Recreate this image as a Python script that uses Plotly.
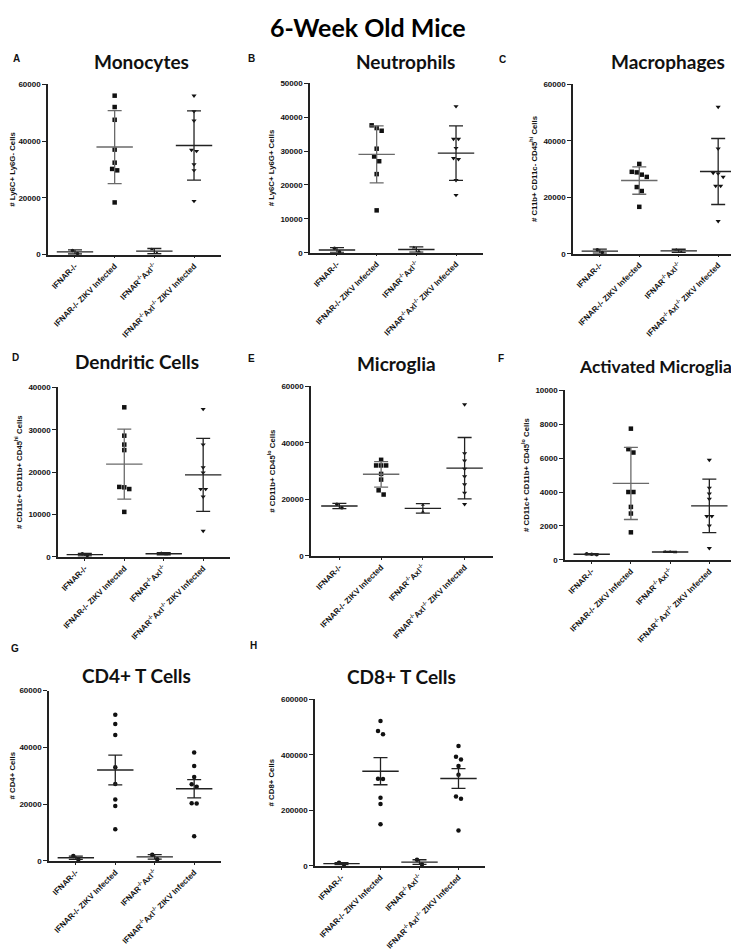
import numpy as np
import plotly.graph_objects as go

# group labels (x axis categories)
groups = ["IFNAR-/-", "IFNAR-/- ZIKV Infected",
          "IFNAR<sup>-/-</sup>Axl<sup>-/-</sup>",
          "IFNAR<sup>-/-</sup>Axl<sup>-/-</sup> ZIKV Infected"]

# cell counts per group
monocytes = [[1500, 450],
             [56000, 52000, 47500, 37000, 32400, 30200, 29700, 18400],
             [1900, 600],
             [56000, 50500, 47200, 36900, 36500, 31800, 29700, 18900]]
neutrophils = [[1300, 300],
               [37600, 36800, 36000, 30700, 28400, 27000, 23200, 12500],
               [1500, 400],
               [43200, 33600, 33600, 30900, 27900, 27600, 21400, 17000]]
macrophages = [[1400, 400],
               [31800, 29000, 28800, 28000, 27200, 23600, 22200, 16600],
               [1400, 600],
               [52000, 37200, 28600, 28400, 27200, 24000, 24000, 11500]]
dendritic = [[700, 300],
             [35300, 28600, 26500, 25200, 16500, 16400, 16000, 10600],
             [900, 550],
             [34900, 26500, 21100, 19900, 16000, 16000, 14200, 6100]]
microglia = [[18300, 17000],
             [34000, 32000, 32000, 32000, 29000, 27000, 23200, 21700],
             [18000, 15600],
             [53600, 36300, 33700, 30800, 28100, 25300, 22300, 18300]]
act_microglia = [[290, 360, 320],
                 [7740, 6530, 6330, 4000, 4000, 3120, 2730, 1620],
                 [430, 470, 480],
                 [5890, 4250, 3900, 3590, 2570, 2570, 2010, 680]]
cd4 = [[1700, 500],
       [51500, 48200, 44300, 33000, 27100, 21600, 19300, 11100],
       [2200, 600],
       [38200, 33400, 29500, 27000, 26100, 20300, 20200, 8700]]
cd8 = [[11500, 4500],
       [522000, 486600, 474800, 314100, 313000, 245600, 223200, 150000],
       [22000, 5000],
       [432300, 393300, 383800, 360200, 328300, 250400, 242100, 127500]]

titles = ["Monocytes", "Neutrophils", "Macrophages", "Dendritic Cells",
          "Microglia", "Activated Microglia", "CD4+ T Cells", "CD8+ T Cells"]
ytitles = ["# Ly6C+ Ly6G- Cells", "# Ly6C+ Ly6G+ Cells",
           "# C11b+ CD11c- CD45<sup>hi</sup> Cells",
           "# CD11c+ CD11b+ CD45<sup>hi</sup> Cells",
           "# CD11b+ CD45<sup>lo</sup> Cells",
           "# CD11c+ CD11b+ CD45<sup>lo</sup> Cells",
           "# CD4+ Cells", "# CD8+ Cells"]
ymax = [60000, 50000, 60000, 40000, 60000, 10000, 60000, 600000]
ystep = [20000, 10000, 20000, 10000, 20000, 2000, 20000, 200000]
letters = ["A", "B", "C", "D", "E", "F", "G", "H"]
datasets = [monocytes, neutrophils, macrophages, dendritic, microglia,
            act_microglia, cd4, cd8]

W, H = 739, 950
# plot boxes in pixels: x0, x1, ytop, ybottom
boxes = [(40, 213, 73, 245), (302, 475, 72, 243), (565, 737, 73, 244),
         (50, 222, 379, 550), (303, 485, 378, 549), (557, 728, 382, 553),
         (41, 213, 685, 857), (307, 477, 694, 862)]
title_pos = [(133, 50), (397, 50), (660, 50), (129, 353), (388, 355),
             (647, 358), (128, 670), (393, 671)]
title_size = [19, 19, 19, 19, 19, 17.5, 19, 19]
letter_pos = [(8, 47), (243, 47), (495, 48), (7, 349), (243, 350),
              (493, 350), (7, 643), (245, 640)]

XR = [-0.68, 3.68]
FONT = "Liberation Sans, Arial, sans-serif"
TFONT = "Lato, Open Sans, sans-serif"

fig = go.Figure()
annotations = []

for i in range(8):
    n = i + 1
    xa = "x" if n == 1 else f"x{n}"
    ya = "y" if n == 1 else f"y{n}"
    x0, x1, yt, yb = boxes[i]
    px_per_cat = (x1 - x0) / (XR[1] - XR[0])
    px_per_val = (yb - yt) / ymax[i]
    sem = i >= 6
    for g, vals in enumerate(datasets[i]):
        vals = np.array(vals, dtype=float)
        mean = vals.mean()
        err = vals.std(ddof=1)
        if sem:
            err = err / np.sqrt(len(vals))
            sym, size = "circle", 4.5
        else:
            sym = ["circle", "square", "triangle-up", "triangle-down"][g]
            size = [3.5, 4.5, 3.5, 4.5][g]
        # spread points that overlap, like a column scatter
        order = np.argsort(-vals)
        sv = vals[order]
        d = 5.0
        offs = np.zeros(len(sv))
        start = 0
        for k in range(1, len(sv) + 1):
            if k == len(sv) or (sv[k - 1] - sv[k]) * px_per_val >= d:
                m = k - start
                offs[start:k] = (np.arange(m) - (m - 1) / 2) * d / px_per_cat
                start = k
        fig.add_trace(go.Scatter(
            x=g + offs, y=sv, xaxis=xa, yaxis=ya, mode="markers",
            marker=dict(symbol=sym, size=size, color="#111"),
            cliponaxis=False, showlegend=False, hoverinfo="y"))
        lc = "#6a6a6a" if (g == 1 and not sem) else "#222"
        fig.add_trace(go.Scatter(
            x=[g], y=[mean], xaxis=xa, yaxis=ya, mode="markers",
            marker=dict(symbol="line-ew", size=26,
                        line=dict(width=1.4, color=lc)),
            error_y=dict(type="data", array=[err], width=7, thickness=1.3,
                         color=lc),
            cliponaxis=False, showlegend=False, hoverinfo="y"))

    tv = list(range(0, ymax[i] + 1, ystep[i]))
    xkey = "xaxis" if n == 1 else f"xaxis{n}"
    ykey = "yaxis" if n == 1 else f"yaxis{n}"
    fig.layout[xkey] = dict(
        domain=[x0 / W, x1 / W], anchor=ya, range=XR,
        tickvals=[0, 1, 2, 3], ticktext=groups, tickangle=-45,
        tickfont=dict(family=FONT, size=8, color="#111", weight="bold"),
        showline=True, linecolor="#222", linewidth=1.5,
        ticks="outside", ticklen=2, tickwidth=1.2, tickcolor="#222",
        showgrid=False, zeroline=False, fixedrange=True)
    fig.layout[ykey] = dict(
        domain=[1 - yb / H, 1 - yt / H], anchor=xa, range=[0, ymax[i]],
        tickvals=tv, ticktext=[str(v) for v in tv],
        tickfont=dict(family=FONT, size=8, color="#111", weight="bold"),
        showline=True, linecolor="#222", linewidth=1.5,
        ticks="outside", ticklen=4, tickwidth=1.2, tickcolor="#222",
        title=dict(text=ytitles[i], standoff=5,
                   font=dict(family=FONT, size=7.8, color="#111",
                             weight="bold")),
        showgrid=False, zeroline=False, fixedrange=True)

    tx, ty = title_pos[i]
    annotations.append(dict(
        text=titles[i], x=tx / W, y=1 - ty / H, xref="paper", yref="paper",
        xanchor="center", yanchor="middle", showarrow=False,
        font=dict(family=TFONT, size=title_size[i], color="#111",
                  weight="bold")))
    lx, ly = letter_pos[i]
    annotations.append(dict(
        text=letters[i], x=lx / W, y=1 - ly / H, xref="paper", yref="paper",
        xanchor="center", yanchor="middle", showarrow=False,
        font=dict(family=FONT, size=10, color="#111", weight="bold")))

annotations.append(dict(
    text="6-Week Old Mice", x=360 / W, y=1 - 15 / H, xref="paper",
    yref="paper", xanchor="center", yanchor="middle", showarrow=False,
    font=dict(family=TFONT, size=25, color="#000", weight="bold")))

fig.update_layout(
    width=W, height=H, margin=dict(l=0, r=0, t=0, b=0),
    paper_bgcolor="white", plot_bgcolor="white",
    annotations=annotations)

fig.write_html("out.html")
